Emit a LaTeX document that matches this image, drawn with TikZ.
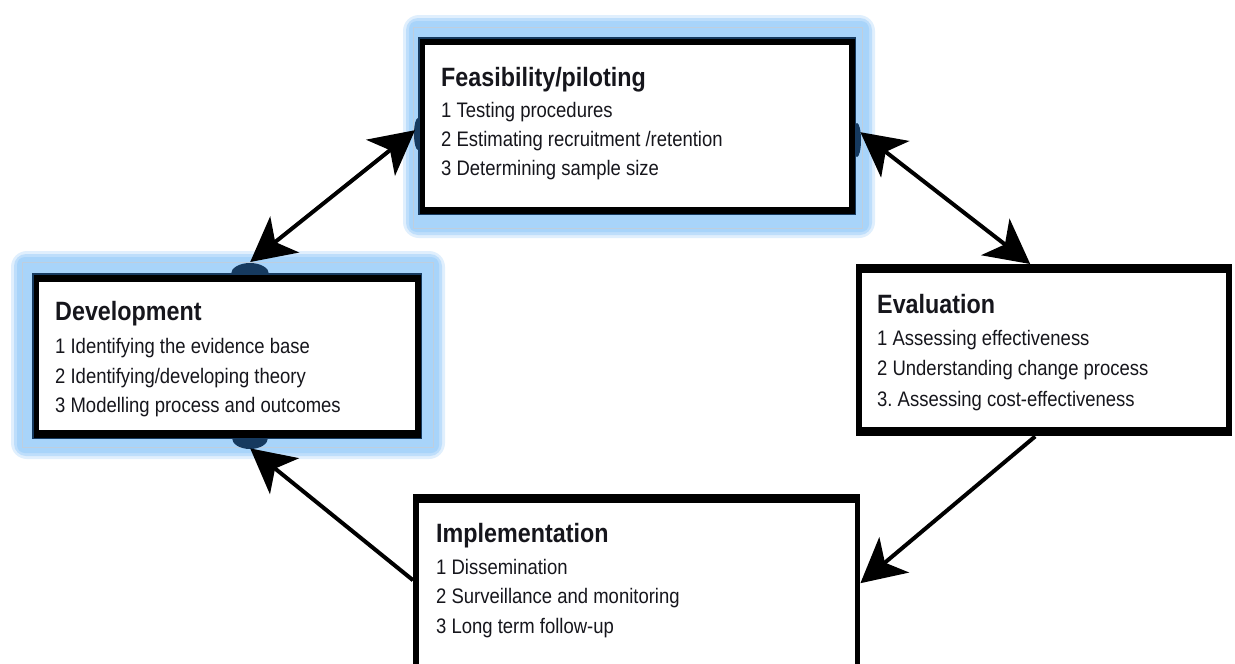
\documentclass[tikz,border=0pt]{standalone}
\usepackage{fontspec}
\setmainfont[FakeStretch=0.88]{Liberation Sans}
\usetikzlibrary{arrows.meta,calc}
\definecolor{glow}{RGB}{168,212,250}
\definecolor{glowline}{RGB}{190,206,222}
\definecolor{navy}{RGB}{22,58,95}
\definecolor{txt}{RGB}{22,22,28}
\tikzset{
  frame/.style={rectangle, draw=none, fill=black, inner sep=0pt, anchor=north west},
  navyframe/.style={frame, fill=navy},
  ttl/.style={anchor=base west, inner sep=0pt, text=txt, font=\fontsize{26.5}{30}\selectfont\bfseries},
  itm/.style={anchor=base west, inner sep=0pt, text=txt, font=\fontsize{21}{24}\selectfont},
  bighead/.tip={Stealth[length=44pt,width=46pt,inset=12pt]},
  arr/.style={line width=4pt, -bighead},
  darr/.style={line width=4pt, bighead-bighead},
}
\begin{document}
\begin{tikzpicture}[x=1pt,y=-1pt]
\useasboundingbox (0,0) rectangle (1235,664);
\clip (0,0) rectangle (1235,664);
\fill[white] (0,0) rectangle (1235,664);

% glows
\fill[glow, opacity=0.35, rounded corners=16pt] (403,15) rectangle (875,238);
\fill[glow, opacity=0.6, rounded corners=12pt] (406,18) rectangle (872,235);
\fill[glow, rounded corners=8pt] (409,21) rectangle (869,232);
\draw[glowline, line width=0.8pt] (413,27) rectangle (862,228);

\fill[glow, opacity=0.35, rounded corners=16pt] (11,251) rectangle (445,459);
\fill[glow, opacity=0.6, rounded corners=12pt] (14,254) rectangle (442,456);
\fill[glow, rounded corners=8pt] (17,257) rectangle (439,453);
\draw[glowline, line width=0.8pt] (22,262) rectangle (433,447);

% dark contact blobs
\fill[navy] (250,274) ellipse [x radius=19, y radius=11];
\fill[navy] (250,438) ellipse [x radius=18, y radius=11];
\fill[navy] (418,134) ellipse [x radius=4, y radius=16];
\fill[navy] (857,140) ellipse [x radius=4, y radius=17];

% boxes
\node[navyframe, minimum width=438pt, minimum height=178pt] (feas) at (418,37) {};
\fill[black] ($(feas.north west)+(1.5,1.5)$) rectangle ($(feas.south east)+(-1.5,-1.5)$);
\fill[white] ($(feas.north west)+(7,8)$) rectangle ($(feas.south east)+(-7,-8)$);

\node[navyframe, minimum width=390pt, minimum height=166pt] (dev) at (32,273) {};
\fill[black] ($(dev.north west)+(1.5,1.5)$) rectangle ($(dev.south east)+(-1.5,-1.5)$);
\fill[white] ($(dev.north west)+(7,9)$) rectangle ($(dev.south east)+(-7,-9)$);

\node[frame, minimum width=376pt, minimum height=172pt] (eval) at (856,264) {};
\fill[white] ($(eval.north west)+(6,9)$) rectangle ($(eval.south east)+(-6,-9)$);

\node[frame, minimum width=447pt, minimum height=206pt] (impl) at (413,494) {};
\fill[white] ($(impl.north west)+(6,9)$) rectangle ($(impl.south east)+(-5,-9)$);

% connectors
\draw[darr] ([shift={(23,-11)}]dev.north) -- ([shift={(-3,4)}]feas.west);
\draw[darr] ([shift={(4,6)}]feas.east) -- ([shift={(-14,0)}]eval.north);
\draw[arr] ([shift={(-9,0)}]eval.south) -- ([shift={(0,-14)}]impl.east);
\draw[arr] ([shift={(0,-17)}]impl.west) -- ([shift={(23,9)}]dev.south);

% texts
\node[ttl] (feasT) at (441,86) {Feasibility/piloting};
\node[itm] (feas1) at (441,117) {1 Testing procedures};
\node[itm] (feas2) at (441,146) {2 Estimating recruitment /retention};
\node[itm] (feas3) at (441,175) {3 Determining sample size};

\node[ttl] (devT) at (55,320) {Development};
\node[itm] (dev1) at (55,353) {1 Identifying the evidence base};
\node[itm] (dev2) at (55,383) {2 Identifying/developing theory};
\node[itm] (dev3) at (55,412) {3 Modelling process and outcomes};

\node[ttl] (evalT) at (877,313) {Evaluation};
\node[itm] (eval1) at (877,345) {1 Assessing effectiveness};
\node[itm] (eval2) at (877,375) {2 Understanding change process};
\node[itm] (eval3) at (877,406) {3.\ Assessing cost-effectiveness};

\node[ttl] (implT) at (436,542) {Implementation};
\node[itm] (impl1) at (436,574) {1 Dissemination};
\node[itm] (impl2) at (436,603) {2 Surveillance and monitoring};
\node[itm] (impl3) at (436,633) {3 Long term follow-up};
\end{tikzpicture}
\end{document}
